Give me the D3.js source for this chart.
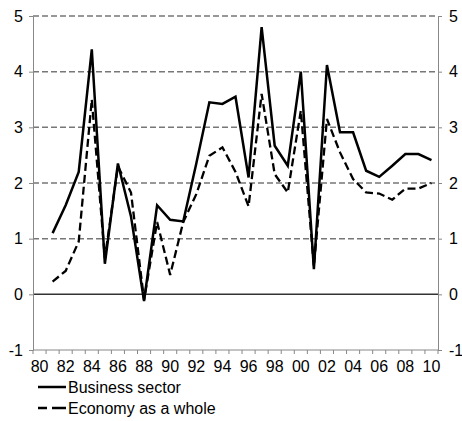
<!DOCTYPE html>
<html>
<head>
<meta charset="utf-8">
<script src="https://cdn.jsdelivr.net/npm/d3@7"></script>
<style>
  html, body { margin: 0; padding: 0; background: #fff; }
  svg { display: block; font-family: "Liberation Sans", Arial, sans-serif; }
</style>
</head>
<body>
<svg id="chart" width="462" height="421"></svg>
<script>
// Years shown on the category axis (1980–2010)
const years = d3.range(1980, 2011);
const tickLabels = ["80","82","84","86","88","90","92","94","96","98","00","02","04","06","08","10"];
const yTicks = [-1, 0, 1, 2, 3, 4, 5];

// Annual growth, per cent (series start in 1981)
const seriesYears = d3.range(1981, 2011);
const businessSector = [1.1, 1.6, 2.2, 4.4, 0.55, 2.35, 1.4, -0.12, 1.6, 1.34, 1.31, 2.35, 3.45, 3.42, 3.55,
                        2.1, 4.8, 2.67, 2.31, 4.0, 0.45, 4.12, 2.91, 2.91, 2.22, 2.11, 2.31, 2.52, 2.52, 2.41];
const economyAsWhole = [0.23, 0.42, 0.95, 3.5, 0.65, 2.3, 1.83, -0.1, 1.3, 0.35, 1.3, 1.8, 2.49, 2.64, 2.2,
                        1.58, 3.6, 2.16, 1.83, 3.3, 0.5, 3.15, 2.55, 2.07, 1.83, 1.81, 1.7, 1.9, 1.9, 2.0];
const legendLabels = ["Business sector", "Economy as a whole"];

const FS = 16;
const svg = d3.select("#chart");
const m = { left: 33, right: 438, top: 16, bottom: 350 };

const x = d3.scaleBand().domain(years).range([m.left, m.right]);
const y = d3.scaleLinear().domain([-1, 5]).range([m.bottom, m.top]);
const cx = yr => x(yr) + x.bandwidth() / 2;

// Horizontal gridlines (dashed), zero line solid
svg.append("g").selectAll("line")
  .data(yTicks.filter(v => v > 0))
  .join("line")
  .attr("x1", m.left).attr("x2", m.right)
  .attr("y1", d => y(d)).attr("y2", d => y(d))
  .attr("stroke", "#777").attr("stroke-width", 1.5)
  .attr("stroke-dasharray", "6,3");

svg.append("line")
  .attr("x1", m.left).attr("x2", m.right)
  .attr("y1", y(0)).attr("y2", y(0))
  .attr("stroke", "#333").attr("stroke-width", 1.5);

// Left and right value axes
const styleAxis = g => {
  g.select(".domain").attr("stroke", "#888").attr("stroke-width", 1);
  g.selectAll(".tick line").attr("stroke", "#888");
  g.selectAll(".tick text").attr("font-size", FS).attr("fill", "#000")
    .attr("font-family", "Liberation Sans, Arial, sans-serif");
};
const fmt = d => String(d);

svg.append("g")
  .attr("transform", `translate(${m.left},0)`)
  .call(d3.axisLeft(y).tickValues(yTicks).tickFormat(fmt).tickSize(4).tickSizeOuter(0).tickPadding(6))
  .call(styleAxis);

svg.append("g")
  .attr("transform", `translate(${m.right},0)`)
  .call(d3.axisRight(y).tickValues(yTicks).tickFormat(fmt).tickSize(4).tickSizeOuter(0).tickPadding(7))
  .call(styleAxis);

// Bottom category axis: ticks on band boundaries, labels every other year
const bottom = svg.append("g").attr("transform", `translate(0,${m.bottom})`);
bottom.append("line")
  .attr("x1", m.left).attr("x2", m.right)
  .attr("stroke", "#888");
bottom.selectAll("line.tk")
  .data(years.concat([2011]))
  .join("line").attr("class", "tk")
  .attr("x1", d => d === 2011 ? m.right : x(d))
  .attr("x2", d => d === 2011 ? m.right : x(d))
  .attr("y1", 0).attr("y2", 4)
  .attr("stroke", "#888");
bottom.selectAll("text")
  .data(years.filter((d, i) => i % 2 === 0))
  .join("text")
  .attr("x", d => cx(d))
  .attr("y", 22)
  .attr("text-anchor", "middle")
  .attr("font-size", FS)
  .text((d, i) => tickLabels[i]);

// Series lines
const line = d3.line().x((d, i) => cx(seriesYears[i])).y(d => y(d));

svg.append("path")
  .datum(economyAsWhole)
  .attr("d", line)
  .attr("fill", "none").attr("stroke", "#000").attr("stroke-width", 2.3)
  .attr("stroke-dasharray", "8,4");

svg.append("path")
  .datum(businessSector)
  .attr("d", line)
  .attr("fill", "none").attr("stroke", "#000").attr("stroke-width", 2.5)
  .attr("stroke-linejoin", "miter");

// Legend
const legend = svg.append("g");
legendLabels.forEach((lab, i) => {
  const ly = 387 + i * 21;
  legend.append("line")
    .attr("x1", 38).attr("x2", 66).attr("y1", ly).attr("y2", ly)
    .attr("stroke", "#000").attr("stroke-width", 2.5)
    .attr("stroke-dasharray", i === 1 ? "9,5,14" : null);
  legend.append("text")
    .attr("x", 68).attr("y", ly + 6)
    .attr("font-size", FS)
    .text(lab);
});
</script>
</body>
</html>
